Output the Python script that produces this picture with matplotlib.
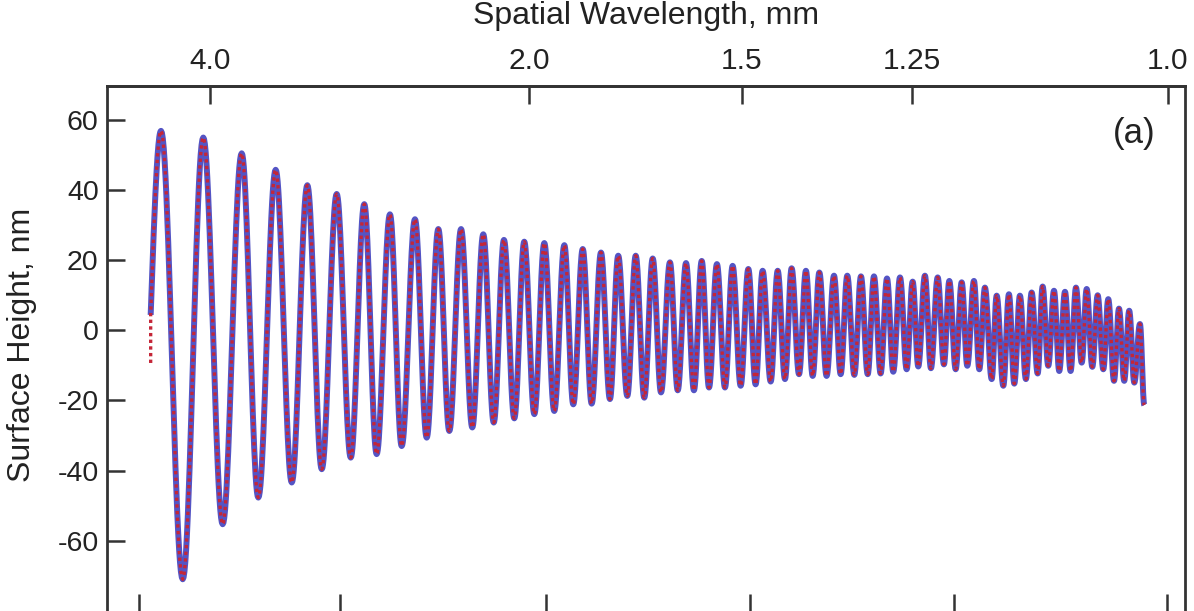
import numpy as np
import matplotlib
matplotlib.use("Agg")
import matplotlib.pyplot as plt

plt.rcParams['font.family'] = ['Liberation Sans', 'DejaVu Sans']
plt.rcParams['axes.unicode_minus'] = False

# ---- data (spatial frequency in 1/mm, surface height in nm) ----
start_f = 0.2035
start_h = 4.4
red_start_h = -9.3
end_f = 0.9817
end_h = -21.3

peak_f = [0.2116, 0.2447, 0.2748, 0.3014, 0.3262, 0.3492, 0.3708, 0.3909, 0.4105, 0.4288,
          0.4466, 0.4640, 0.4802, 0.4961, 0.5118, 0.5275, 0.5419, 0.5562, 0.5697, 0.5834,
          0.5967, 0.6102, 0.6228, 0.6351, 0.6470, 0.6593, 0.6716, 0.6828, 0.6946, 0.7055,
          0.7167, 0.7272, 0.7387, 0.7491, 0.7598, 0.7700, 0.7802, 0.7904, 0.8003, 0.8099,
          0.8199, 0.8290, 0.8387, 0.8483, 0.8569, 0.8661, 0.8757, 0.8843, 0.8935, 0.9021,
          0.9110, 0.9196, 0.9282, 0.9366, 0.9452, 0.9535, 0.9619, 0.9699, 0.9783]
peak_h = [56.9, 55.0, 50.5, 45.8, 41.4, 38.9, 36.0, 33.1, 31.7, 28.9,
          28.9, 27.4, 25.8, 25.3, 24.9, 24.3, 23.2, 22.2, 21.3, 21.3,
          20.5, 19.4, 19.2, 19.8, 18.9, 18.4, 17.5, 17.0, 17.0, 17.7,
          17.0, 16.5, 15.6, 15.6, 15.4, 15.4, 14.8, 15.1, 13.9, 15.6,
          15.1, 14.1, 13.7, 14.1, 12.2, 9.9, 10.3, 9.9, 10.8, 12.5,
          11.3, 11.0, 12.2, 11.8, 10.0, 8.9, 6.2, 5.6, 1.8]
trough_f = [0.2286, 0.2599, 0.2878, 0.3140, 0.3375, 0.3602, 0.3805, 0.4001, 0.4197, 0.4374,
            0.4554, 0.4722, 0.4883, 0.5040, 0.5196, 0.5345, 0.5489, 0.5632, 0.5768, 0.5901,
            0.6032, 0.6163, 0.6290, 0.6408, 0.6533, 0.6656, 0.6773, 0.6891, 0.7003, 0.7113,
            0.7220, 0.7329, 0.7439, 0.7546, 0.7651, 0.7752, 0.7851, 0.7956, 0.8047, 0.8146,
            0.8248, 0.8340, 0.8431, 0.8525, 0.8622, 0.8713, 0.8799, 0.8890, 0.8982, 0.9065,
            0.9151, 0.9240, 0.9327, 0.9410, 0.9496, 0.9580, 0.9660, 0.9739]
trough_h = [-71.0, -55.3, -47.7, -43.4, -39.6, -36.3, -35.3, -33.0, -30.6, -28.7,
            -27.7, -26.3, -25.1, -23.9, -23.0, -21.1, -20.9, -19.6, -18.7, -19.2,
            -17.7, -17.1, -17.1, -16.3, -16.3, -15.8, -15.4, -14.6, -13.9, -12.5,
            -13.0, -13.0, -12.5, -12.7, -12.5, -12.3, -11.8, -11.1, -10.3, -10.8,
            -9.7, -11.1, -10.1, -11.1, -13.9, -15.8, -15.2, -13.9, -12.3, -10.1,
            -11.6, -11.6, -9.2, -10.4, -11.1, -14.4, -14.4, -14.9]

wavelength_ticks = [4.0, 2.0, 1.5, 1.25, 1.0]
wavelength_labels = ['4.0', '2.0', '1.5', '1.25', '1.0']
height_ticks = [-60, -40, -20, 0, 20, 40, 60]
bottom_ticks = [0.1944, 0.3518, 0.5131, 0.6729, 0.8326, 0.9995]

# ---- build the sequence of extrema ----
ex_f = [start_f]
ex_h = [start_h]
for i in range(len(peak_f)):
    ex_f.append(peak_f[i]); ex_h.append(peak_h[i])
    if i < len(trough_f):
        ex_f.append(trough_f[i]); ex_h.append(trough_h[i])
ex_f.append(end_f)
ex_h.append(end_h)


def smooth_path(xs, ys, n=24):
    X, Y = [], []
    for k in range(len(xs) - 1):
        t = np.linspace(0, 1, n, endpoint=False)
        if k == 0:
            s = np.sin(np.pi / 2 * t)
        else:
            s = (1 - np.cos(np.pi * t)) / 2
        X.extend(xs[k] + (xs[k + 1] - xs[k]) * t)
        Y.extend(ys[k] + (ys[k + 1] - ys[k]) * s)
    X.append(xs[-1]); Y.append(ys[-1])
    return np.array(X), np.array(Y)


xb, yb = smooth_path(ex_f, ex_h)
xr = np.concatenate([[start_f], xb])
yr = np.concatenate([[red_start_h], yb])

W, H = 1194, 611
fig = plt.figure(figsize=(W / 100, H / 100), dpi=100)
ax = fig.add_axes([107 / W, 0, (1185 - 107) / W, (611 - 86) / H])

ax.plot(xb, yb, color='#5454c4', lw=4.3, solid_capstyle='butt', zorder=2)
ax.plot(xr, yr, color='#c42638', lw=2.4, linestyle=(0, (1.0, 1.0)), zorder=3)

ax.set_xlim(0.1693, 1.0136)
ax.set_ylim(-80.05, 69.7)

dark = '#333333'
for s in ax.spines.values():
    s.set_linewidth(2.0)
    s.set_color(dark)
ax.spines['bottom'].set_visible(False)

ax.set_yticks(height_ticks)
ax.set_yticklabels([str(v) for v in height_ticks])
ax.set_xticks(bottom_ticks)
ax.tick_params(axis='both', direction='in', length=12.6, width=1.8, colors=dark,
               labelcolor='#222222', labelsize=20.5, pad=6)
ax.tick_params(axis='x', labelbottom=False, top=False)
ax.tick_params(axis='y', right=False)

secax = ax.secondary_xaxis('top', functions=(lambda f: 1.0 / np.maximum(f, 1e-6),
                                              lambda w: 1.0 / np.maximum(w, 1e-6)))
secax.set_xticks(wavelength_ticks)
secax.set_xticklabels(wavelength_labels)
secax.tick_params(direction='in', length=12.6, width=1.8, colors=dark,
                  labelcolor='#222222', labelsize=21.5, pad=8)
secax.spines['top'].set_linewidth(2.0)
secax.spines['top'].set_color(dark)

fig.text(646 / W, 1 - 16 / H, 'Spatial Wavelength, mm', ha='center', va='center',
         fontsize=23, color='#222222')
fig.text(22 / W, 1 - 345 / H, 'Surface Height, nm', rotation=90, ha='center',
         va='center', fontsize=23, color='#222222')
fig.text(1134 / W, 1 - 134 / H, '(a)', ha='center', va='center', fontsize=25,
         color='#222222')

fig.savefig('out.png', dpi=100)
